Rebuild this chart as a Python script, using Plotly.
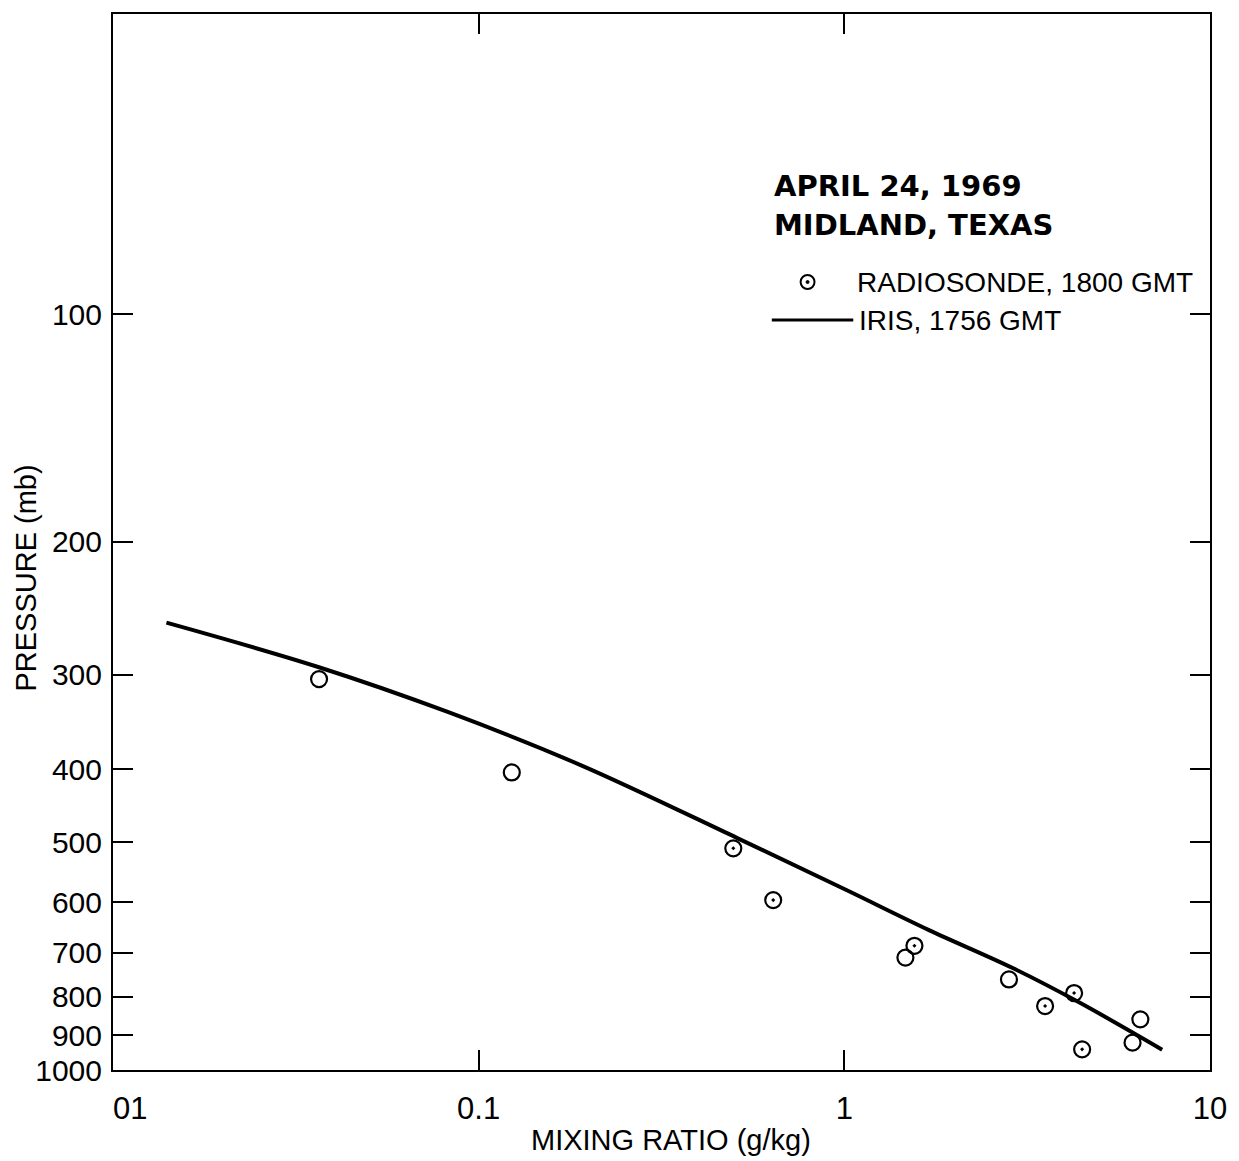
import plotly.graph_objects as go

# Radiosonde soundings (mixing ratio g/kg, pressure mb)
sonde_dot_mr = [0.497, 0.639, 1.555, 3.54, 4.25, 4.47]
sonde_dot_p = [509, 596, 685, 823, 791, 939]
sonde_open_mr = [0.0366, 0.1232, 1.469, 2.82, 6.45, 6.14]
sonde_open_p = [304, 404, 710, 759, 857, 920]

# IRIS retrieved profile
iris_mr = [0.0140, 0.0364, 0.0823, 0.190, 0.508, 1.013, 1.704, 2.887, 4.37, 7.40]
iris_p = [256, 293, 336, 395, 493, 578, 653, 733, 813, 940]

# Axis ticks
x_tickvals = [0.01, 0.1, 1, 10]
x_ticktext = ["\u00a0\u00a0\u00a0\u00a001", "0.1", "1", "10"]
y_tickvals = [100, 200, 300, 400, 500, 600, 700, 800, 900, 1000]
y_ticktext = ["100", "200", "300", "400", "500", "600", "700", "800", "900", "1000"]

W, H = 1239, 1161
L, R, T, B = 113, 22, 14, 91
PW, PH = W - L - R, H - T - B


def px_x(px):
    return (px - L) / PW


def px_y(py):
    return (H - B - py) / PH


fig = go.Figure()

fig.add_trace(go.Scatter(
    x=iris_mr, y=iris_p, mode="lines",
    line=dict(color="black", width=4, shape="spline", smoothing=1.0),
    showlegend=False, hoverinfo="skip"))

fig.add_trace(go.Scatter(
    x=sonde_open_mr, y=sonde_open_p, mode="markers",
    marker=dict(symbol="circle-open", size=16, color="black", line=dict(width=2.2)),
    showlegend=False))

fig.add_trace(go.Scatter(
    x=sonde_dot_mr, y=sonde_dot_p, mode="markers",
    marker=dict(symbol="circle-open-dot", size=16, color="black", line=dict(width=2.2)),
    showlegend=False))

tick_font_x = dict(family="Liberation Sans Narrow, Liberation Sans, Arial", size=31, color="black")
tick_font_y = dict(family="Liberation Sans, Arial", size=30, color="black")

fig.update_xaxes(
    type="log", range=[-2, 1],
    tickvals=x_tickvals, ticktext=x_ticktext, tickfont=tick_font_x,
    ticks="inside", ticklen=20, tickwidth=2, tickcolor="black",
    showline=True, linewidth=2, linecolor="black", mirror="ticks",
    showgrid=False, zeroline=False, ticklabelstandoff=10)

fig.update_yaxes(
    type="log", range=[3, 1.603],
    tickvals=y_tickvals, ticktext=y_ticktext, tickfont=tick_font_y,
    ticks="inside", ticklen=20, tickwidth=2, tickcolor="black",
    showline=True, linewidth=2, linecolor="black", mirror="ticks",
    showgrid=False, zeroline=False, ticklabelstandoff=3)

title_font = dict(family="Liberation Sans, Arial", size=29, color="black")
anns = [
    dict(text="MIXING RATIO (g/kg)", x=px_x(675), y=px_y(1140), font=title_font,
         xanchor="center", yanchor="middle"),
    dict(text="PRESSURE (mb)", x=px_x(25), y=px_y(578), font=title_font, textangle=-90,
         xanchor="center", yanchor="middle"),
    dict(text="<b>APRIL 24, 1969</b>", x=px_x(776), y=px_y(186),
         font=dict(family="DejaVu Sans", size=29, color="black"),
         xanchor="left", yanchor="middle"),
    dict(text="<b>MIDLAND, TEXAS</b>", x=px_x(776), y=px_y(225),
         font=dict(family="DejaVu Sans", size=29, color="black"),
         xanchor="left", yanchor="middle"),
    dict(text="RADIOSONDE, 1800 GMT", x=px_x(860), y=px_y(282),
         font=dict(family="Liberation Sans, Arial", size=28, color="black"),
         xanchor="left", yanchor="middle"),
    dict(text="IRIS, 1756 GMT", x=px_x(862), y=px_y(320),
         font=dict(family="Liberation Sans, Arial", size=28, color="black"),
         xanchor="left", yanchor="middle"),
]
for a in anns:
    a.update(xref="paper", yref="paper", showarrow=False)

# Legend key symbols
cx, cy, r = 812, 282, 7
shapes = [
    dict(type="circle", xref="paper", yref="paper",
         x0=px_x(cx - r), x1=px_x(cx + r), y0=px_y(cy + r), y1=px_y(cy - r),
         line=dict(color="black", width=2)),
    dict(type="circle", xref="paper", yref="paper",
         x0=px_x(cx - 1.5), x1=px_x(cx + 1.5), y0=px_y(cy + 1.5), y1=px_y(cy - 1.5),
         line=dict(color="black", width=1), fillcolor="black"),
    dict(type="line", xref="paper", yref="paper",
         x0=px_x(776), x1=px_x(858), y0=px_y(320), y1=px_y(320),
         line=dict(color="black", width=3)),
]

fig.update_layout(
    width=W, height=H,
    margin=dict(l=L, r=R, t=T, b=B),
    paper_bgcolor="white", plot_bgcolor="white",
    annotations=anns, shapes=shapes,
    showlegend=False)

fig.write_html("out.html")
